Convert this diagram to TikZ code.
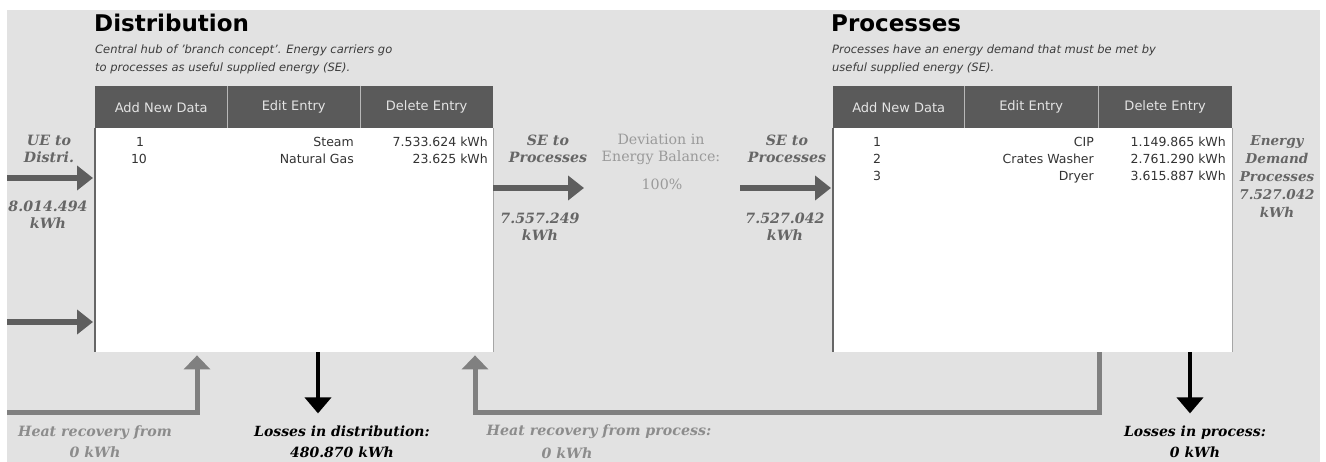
\documentclass[tikz,border=0pt]{standalone}
\usepackage{fontspec}
\setmainfont{DejaVu Sans}
\newfontfamily\lserif{DejaVu Serif}
\usetikzlibrary{arrows.meta}
\definecolor{bg}{HTML}{E2E2E2}
\definecolor{btn}{HTML}{5A5A5A}
\definecolor{btntxt}{HTML}{E4E4E4}
\definecolor{sepc}{HTML}{B8B8B8}
\definecolor{tbl}{HTML}{333333}
\definecolor{arr}{HTML}{5E5E5E}
\definecolor{hrc}{HTML}{808080}
\definecolor{labc}{HTML}{666666}
\definecolor{hrlab}{HTML}{8C8C8C}
\definecolor{devc}{HTML}{9A9A9A}
\definecolor{subtxt}{HTML}{3C3C3C}
\begin{document}
\begin{tikzpicture}[x=1pt,y=-1pt,
 title/.style={anchor=base west,inner sep=0,font=\bfseries\fontsize{23}{26}\selectfont},
 subtitle/.style={anchor=base west,inner sep=0,text=subtxt,font=\itshape\fontsize{11.5}{14}\selectfont},
 btnbox/.style={anchor=north west,inner sep=0,fill=btn,text=btntxt,minimum height=42pt,font=\fontsize{13}{15}\selectfont},
 tbox/.style={anchor=north west,inner sep=0,fill=white,minimum height=224pt},
 cell/.style={anchor=base east,inner sep=0,text=tbl,font=\fontsize{12.5}{14}\selectfont},
 idx/.style={anchor=base,inner sep=0,text=tbl,font=\fontsize{12.5}{14}\selectfont},
 lbl/.style={align=center,inner sep=0,text=labc,font=\lserif\bfseries\itshape\fontsize{14.2}{17}\selectfont},
 hrlbl/.style={align=center,inner sep=0,text=hrlab,font=\lserif\bfseries\itshape\fontsize{14.2}{21}\selectfont},
 losslbl/.style={align=center,inner sep=0,text=black,font=\lserif\bfseries\itshape\fontsize{14}{21}\selectfont},
 devlbl/.style={align=center,inner sep=0,text=devc,font=\lserif\fontsize{14.2}{17}\selectfont},
 sepline/.style={draw=sepc,line width=1.2pt},
 ledge/.style={draw=black!60,line width=1.5pt},
 redge/.style={draw=black!35,line width=0.8pt},
 flow/.style={draw=arr,line width=6pt,-{Triangle[width=24pt,length=16pt]}},
 hrflow/.style={draw=hrc,line width=5pt,-{Triangle[width=26pt,length=14pt]}},
 lossflow/.style={draw=black,line width=4pt,-{Triangle[width=26pt,length=16pt]}}
]
\useasboundingbox (0,0) rectangle (1326,462);
\fill[bg] (7,10) rectangle (1320,462);

% ---------- Distribution ----------
\node[title] (dtitle) at (94,32) {Distribution};
\node[subtitle] (dsub1) at (95,54) {Central hub of 'branch concept'. Energy carriers go};
\node[subtitle] (dsub2) at (95,72) {to processes as useful supplied energy (SE).};
\node[btnbox,minimum width=132pt] (db1) at (95,86) {Add New Data};
\node[btnbox,minimum width=133pt] (db2) at (227,86) {Edit Entry};
\node[btnbox,minimum width=133pt] (db3) at (360,86) {Delete Entry};
\draw[sepline] (db1.north east) -- (db1.south east);
\draw[sepline] (db2.north east) -- (db2.south east);
\node[tbox,minimum width=398pt] (dbox) at (95,128) {};
\draw[ledge] (dbox.north west) -- (dbox.south west);
\draw[redge] (dbox.north east) -- (dbox.south east);
\node[idx] (d1a) at (140,147) {1};
\node[cell] (d1b) at (354,147) {Steam};
\node[cell] (d1c) at (488,147) {7.533.624 kWh};
\node[idx] (d2a) at (139,164) {10};
\node[cell] (d2b) at (354,164) {Natural Gas};
\node[cell] (d2c) at (488,164) {23.625 kWh};

% ---------- Processes ----------
\node[title] (ptitle) at (831,32) {Processes};
\node[subtitle] (psub1) at (832,54) {Processes have an energy demand that must be met by};
\node[subtitle] (psub2) at (832,72) {useful supplied energy (SE).};
\node[btnbox,minimum width=131pt] (pb1) at (833,86) {Add New Data};
\node[btnbox,minimum width=134pt] (pb2) at (964,86) {Edit Entry};
\node[btnbox,minimum width=134pt] (pb3) at (1098,86) {Delete Entry};
\draw[sepline] (pb1.north east) -- (pb1.south east);
\draw[sepline] (pb2.north east) -- (pb2.south east);
\node[tbox,minimum width=399pt] (pbox) at (833,128) {};
\draw[ledge] (pbox.north west) -- (pbox.south west);
\draw[redge] (pbox.north east) -- (pbox.south east);
\node[idx] (p1a) at (877,147) {1};
\node[cell] (p1b) at (1094,147) {CIP};
\node[cell] (p1c) at (1226,147) {1.149.865 kWh};
\node[idx] (p2a) at (877,164) {2};
\node[cell] (p2b) at (1094,164) {Crates Washer};
\node[cell] (p2c) at (1226,164) {2.761.290 kWh};
\node[idx] (p3a) at (877,181) {3};
\node[cell] (p3b) at (1094,181) {Dryer};
\node[cell] (p3c) at (1226,181) {3.615.887 kWh};

% ---------- labels ----------
\node[lbl] (ue) at (49,149) {UE to\\Distri.};
\node[lbl] (uev) at (48,215) {8.014.494\\kWh};
\node[lbl] (se1) at (548,149) {SE to\\Processes};
\node[lbl] (se1v) at (540,227) {7.557.249\\kWh};
\node[devlbl] (dev) at (661,149) {Deviation in\\Energy Balance:};
\node[devlbl] (devv) at (662,184) {100\%};
\node[lbl] (se2) at (787,149) {SE to\\Processes};
\node[lbl] (se2v) at (785,227) {7.527.042\\kWh};
\node[lbl,font=\lserif\bfseries\itshape\fontsize{13.5}{18}\selectfont] (ed) at (1277,177) {Energy\\Demand\\Processes\\7.527.042\\kWh};
\node[hrlbl] (hr1l) at (95,442) {Heat recovery from\\0 kWh};
\node[losslbl] (l1l) at (342,442) {Losses in distribution:\\480.870 kWh};
\node[hrlbl] (hr2l) at (599,432) {Heat recovery from process:};
\node[hrlbl] (hr2v) at (567,453) {0 kWh};
\node[losslbl] (l2l) at (1195,442) {Losses in process:\\0 kWh};

% ---------- arrows ----------
\coordinate (in1) at (7,178);
\coordinate (in2) at (7,322);
\draw[flow,shorten >=2pt] (in1) -- (in1 -| dbox.west);
\draw[flow,shorten >=2pt] (in2) -- (in2 -| dbox.west);
\coordinate (se1e) at (584,188);
\draw[flow] (se1e -| dbox.east) -- (se1e);
\coordinate (se2s) at (740,188);
\draw[flow,shorten >=2pt] (se2s) -- (se2s -| pbox.west);
\coordinate (hr1s) at (7,412);
\draw[hrflow,shorten >=3pt] (hr1s) -| ([xshift=102pt]dbox.south west);
\coordinate (hr2c) at (475,412);
\draw[hrflow,shorten >=3pt] ([xshift=266pt]pbox.south west) |- (hr2c) -- (hr2c |- dbox.south);
\draw[lossflow] ([xshift=223pt]dbox.south west) -- ++(0,61);
\draw[lossflow] ([xshift=357pt]pbox.south west) -- ++(0,61);
\end{tikzpicture}
\end{document}
